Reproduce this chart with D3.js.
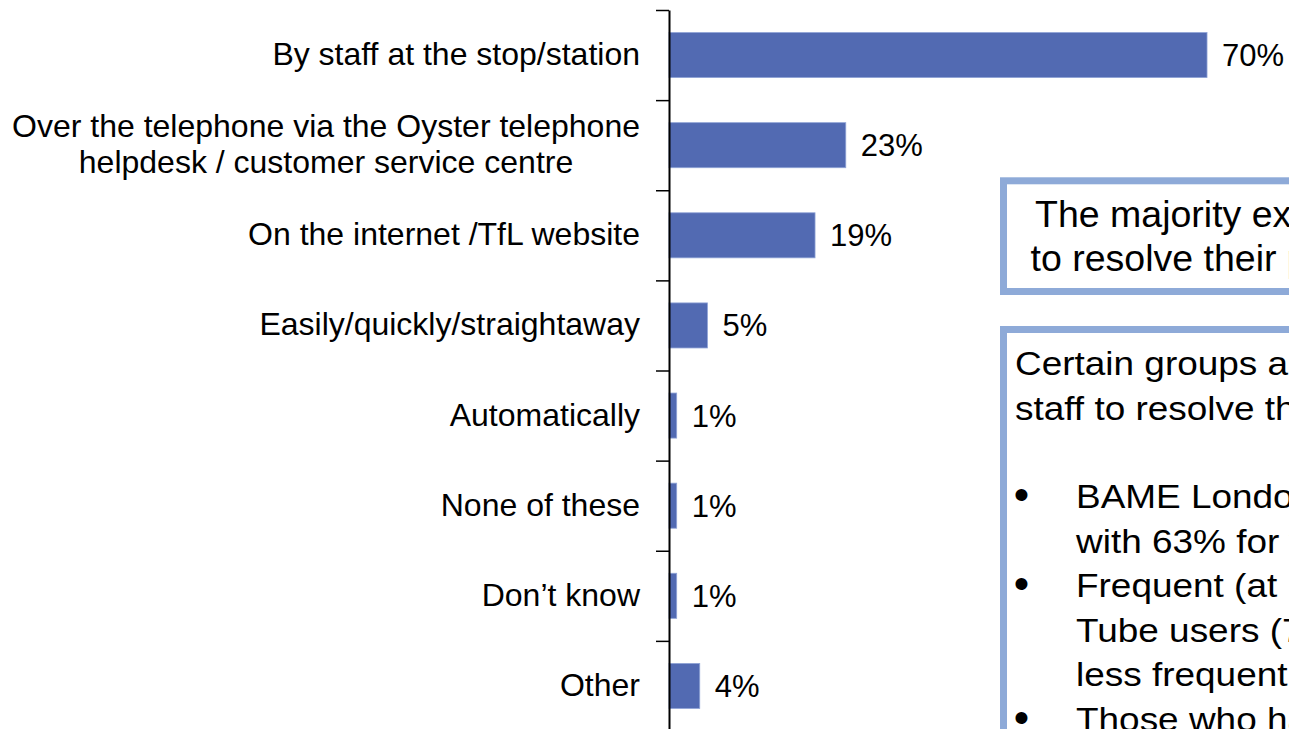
<!DOCTYPE html>
<html>
<head>
<meta charset="utf-8">
<script src="https://cdn.jsdelivr.net/npm/d3@7"></script>
<style>
  html, body { margin: 0; padding: 0; background: #ffffff; overflow: hidden; }
  svg { display: block; }
  text { font-family: Arial, "Liberation Sans", sans-serif; fill: #000; }
</style>
</head>
<body>
<svg id="chart" width="1289" height="729"></svg>
<script>
// ---- data ----
const categories = [
  ["By staff at the stop/station"],
  ["Over the telephone via the Oyster telephone", "helpdesk / customer service centre"],
  ["On the internet /TfL website"],
  ["Easily/quickly/straightaway"],
  ["Automatically"],
  ["None of these"],
  ["Don\u2019t know"],
  ["Other"]
];
const values = [70, 23, 19, 5, 1, 1, 1, 4];
const valueLabels = ["70%", "23%", "19%", "5%", "1%", "1%", "1%", "4%"];

const box1Lines = [
  "The majority expect staff at the stop/station",
  "to resolve their problem"
];
const box2Intro = [
  "Certain groups are more likely to expect",
  "staff to resolve their problem:"
];
const box2Bullets = [
  ["BAME Londoners (77% compared", "with 63% for white Londoners)"],
  ["Frequent (at least weekly)", "Tube users (74% compared with", "less frequent users)"],
  ["Those who have a problem with"]
];

// ---- layout ----
(function () {
const svg = d3.select("#chart");
const axisX = 669, plotTop = 10, plotBottom = 731;
const barColor = "#526AB2";
const boxColor = "#8EAAD8";

const keys = categories.map((c, i) => i);
const y = d3.scaleBand().domain(keys).range([plotTop, plotBottom]).paddingInner(0.5).paddingOuter(0.25);
const x = d3.scaleLinear().domain([0, 100]).range([axisX, axisX + 768.6]);
const yTicks = d3.scaleLinear().domain([0, categories.length]).range([plotTop, plotBottom]);

// bars
svg.append("g").selectAll("rect").data(values).join("rect")
  .attr("x", x(0))
  .attr("y", (d, i) => y(i))
  .attr("width", d => x(d) - x(0))
  .attr("height", y.bandwidth())
  .attr("fill", barColor)
  .attr("stroke", "#8FA3D6")
  .attr("stroke-width", 0.8);

// axis with ticks at band boundaries
const axis = d3.axisLeft(yTicks)
  .tickValues(d3.range(categories.length + 1))
  .tickFormat("")
  .tickSize(13)
  .tickSizeOuter(0);
const gAxis = svg.append("g").attr("transform", `translate(${axisX},0)`).call(axis);
gAxis.select(".domain").attr("stroke", "#000").attr("stroke-width", 2);
gAxis.selectAll(".tick line").attr("stroke", "#000").attr("stroke-width", 1.5);

// category labels (block right-aligned, lines centred within block)
const catFont = 32, catLH = 36.5, labelRight = 640;
categories.forEach((lines, i) => {
  const cy = y(i) + y.bandwidth() / 2;
  const n = lines.length;
  const g = svg.append("g");
  const ts = lines.map((ln, j) => g.append("text")
    .attr("font-size", catFont)
    .attr("y", cy + 10 + (j - (n - 1) / 2) * catLH)
    .text(ln));
  const maxW = d3.max(ts, t => t.node().getComputedTextLength());
  ts.forEach(t => t.attr("text-anchor", "middle").attr("x", labelRight - maxW / 2));
});

// value labels
svg.append("g").selectAll("text").data(values).join("text")
  .attr("x", d => x(d) + 15)
  .attr("y", (d, i) => y(i) + y.bandwidth() / 2 + 11)
  .attr("font-size", 31)
  .text((d, i) => valueLabels[i]);

// ---- text boxes ----
const b1 = svg.append("g");
b1.append("rect")
  .attr("x", 1003.5).attr("y", 180.8)
  .attr("width", 500).attr("height", 110.7)
  .attr("fill", "#fff").attr("stroke", boxColor).attr("stroke-width", 7);
const b1Starts = [1035, 1030.5];
const b1Base = [227.3, 270.7];
box1Lines.forEach((ln, j) => {
  b1.append("text").attr("x", b1Starts[j]).attr("y", b1Base[j])
    .attr("font-size", 37.5).text(ln);
});

const b2 = svg.append("g");
b2.append("rect")
  .attr("x", 1003.5).attr("y", 329.5)
  .attr("width", 500).attr("height", 600)
  .attr("fill", "#fff").attr("stroke", boxColor).attr("stroke-width", 7);
const b2Font = 33, b2LH = 44.5, sx = 1.12;
const stretched = (px, py, s) => b2.append("text")
  .attr("transform", `translate(${px},${py}) scale(${sx},1)`)
  .attr("font-size", b2Font).text(s);
box2Intro.forEach((ln, j) => stretched(1015, 375 + j * b2LH, ln));
let lineIdx = 0;
const bulletBase = 508;
box2Bullets.forEach(lines => {
  const by = bulletBase + lineIdx * b2LH;
  b2.append("text").attr("x", 1021.5).attr("y", by + 2)
    .attr("text-anchor", "middle").attr("font-size", 44).text("\u2022");
  lines.forEach(ln => {
    stretched(1076, bulletBase + lineIdx * b2LH, ln);
    lineIdx++;
  });
});
})();
</script>
</body>
</html>
